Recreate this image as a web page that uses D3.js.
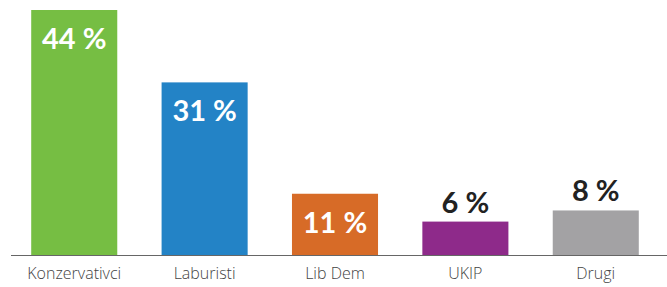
<!DOCTYPE html>
<html>
<head>
<meta charset="utf-8">
<script src="https://cdn.jsdelivr.net/npm/d3@7"></script>
<style>
  body { margin: 0; background: #fff; }
</style>
</head>
<body>
<svg id="chart"></svg>
<script>
var parties = ["Konzervativci", "Laburisti", "Lib Dem", "UKIP", "Drugi"]
var shares = [44, 31, 11, 6, 8]
var colors = ["#76be43", "#2383c6", "#d76b27", "#8e2a8a", "#a3a2a4"]

var data = parties.map((p, i) => ({ party: p, share: shares[i], color: colors[i] }))

var dimensions = {
    width: 667,
    height: 287,
    margin: { top: 10, bottom: 32, left: 11, right: 8 }
}

var svg = d3.select("#chart")
            .attr("width", dimensions.width)
            .attr("height", dimensions.height)

var xScale = d3.scaleBand()
               .domain(parties)
               .range([dimensions.margin.left, dimensions.width - dimensions.margin.right])
               .paddingInner(0.34)
               .paddingOuter(0.155)

var yScale = d3.scaleLinear()
               .domain([0, 44])
               .range([dimensions.height - dimensions.margin.bottom, dimensions.margin.top])

svg.append("g")
   .selectAll("rect")
   .data(data)
   .enter()
   .append("rect")
   .attr("x", d => xScale(d.party))
   .attr("y", d => yScale(d.share))
   .attr("width", xScale.bandwidth())
   .attr("height", d => yScale(0) - yScale(d.share))
   .attr("fill", d => d.color)

// big shares sit inside the bar in white, small ones above it
svg.append("g")
   .selectAll("text")
   .data(data)
   .enter()
   .append("text")
   .attr("x", d => xScale(d.party) + xScale.bandwidth() / 2)
   .attr("y", d => d.share >= 10 ? yScale(d.share) + 39 : yScale(d.share) - 9)
   .attr("text-anchor", "middle")
   .attr("font-family", "Lato, 'Open Sans', sans-serif")
   .attr("font-weight", "bold")
   .attr("font-size", "29px")
   .attr("fill", d => d.share >= 10 ? "#fff" : "#222")
   .text(d => d.share + " %")

var xAxis = svg.append("g")
               .attr("transform", `translate(0,${yScale(0)})`)
               .call(d3.axisBottom(xScale).tickSize(0).tickPadding(13))

xAxis.select(".domain")
     .attr("d", `M${dimensions.margin.left},0.5H${dimensions.width}`)
     .attr("stroke", "#666")

xAxis.selectAll("text")
     .attr("font-family", "'Open Sans', sans-serif")
     .attr("font-weight", "300")
     .attr("font-size", "16px")
     .attr("fill", "#444")
</script>
</body>
</html>
